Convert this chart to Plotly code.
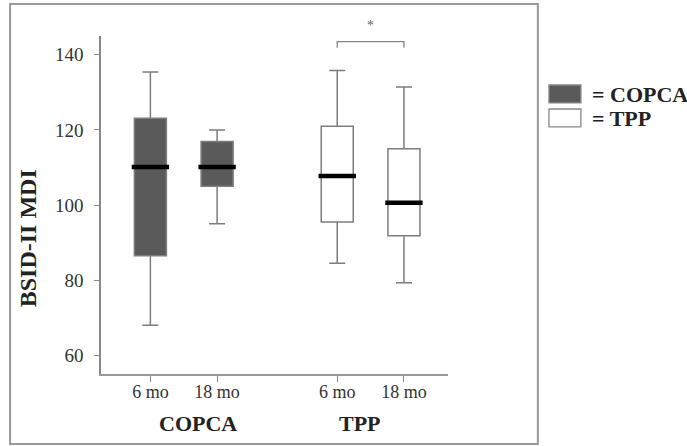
import plotly.graph_objects as go

# ---- data ----
groups = ["COPCA", "COPCA", "TPP", "TPP"]
timepoints = ["6 mo", "18 mo", "6 mo", "18 mo"]
positions = [1.0, 2.0, 3.8, 4.8]
lower_whisker = [68.0, 95.0, 84.5, 79.3]
q1 = [86.5, 105.0, 95.5, 91.8]
median = [110.1, 110.1, 107.7, 100.6]
q3 = [123.1, 116.9, 121.0, 115.0]
upper_whisker = [135.4, 120.0, 135.8, 131.4]
y_ticks = [60, 80, 100, 120, 140]
group_names = ["COPCA", "TPP"]
group_label_x = [1.72, 4.14]
bracket_x = [3.8, 4.8]
bracket_y = [141.9, 143.5]

fills = {"COPCA": "#5a5a5a", "TPP": "#ffffff"}
serif = "Liberation Serif, DejaVu Serif, serif"

fig = go.Figure()
box_w = 0.48
for i in range(len(positions)):
    fig.add_trace(go.Box(
        x=[positions[i]], q1=[q1[i]], median=[median[i]], q3=[q3[i]],
        lowerfence=[lower_whisker[i]], upperfence=[upper_whisker[i]],
        width=box_w, whiskerwidth=0.5,
        fillcolor=fills[groups[i]],
        line=dict(color="#7d7d7d", width=1.5),
        boxpoints=False, showlegend=False, hoverinfo="skip",
    ))
    half = box_w / 2 + 0.04
    fig.add_trace(go.Scatter(
        x=[positions[i] - half, positions[i] + half], y=[median[i], median[i]],
        mode="lines", line=dict(color="#000000", width=4.5),
        showlegend=False, hoverinfo="skip",
    ))

# significance bracket
fig.add_shape(type="path", xref="x", yref="y",
              path=f"M {bracket_x[0]},{bracket_y[0]} L {bracket_x[0]},{bracket_y[1]} "
                   f"L {bracket_x[1]},{bracket_y[1]} L {bracket_x[1]},{bracket_y[0]}",
              line=dict(color="#888888", width=1.3))
fig.add_annotation(x=sum(bracket_x) / 2, y=1.03, xref="x", yref="paper", text="*",
                   xanchor="center", yanchor="middle",
                   showarrow=False, font=dict(family=serif, size=14, color="#666666"))

# group labels
for name, gx in zip(group_names, group_label_x):
    fig.add_annotation(x=gx, y=-0.145, xref="x", yref="paper", text=f"<b>{name}</b>",
                       xanchor="center", yanchor="middle",
                       showarrow=False, font=dict(family=serif, size=22, color="#222222"))

# y title
fig.add_annotation(x=-0.21, y=0.402, xref="paper", yref="paper", text="<b>BSID-II MDI</b>",
                   textangle=-90, showarrow=False, xanchor="center", yanchor="middle",
                   font=dict(family=serif, size=24, color="#222222"))

# outer frame
fig.add_shape(type="rect", xref="paper", yref="paper", x0=-0.262, x1=1.259, y0=-0.207, y1=1.095,
              line=dict(color="#999999", width=2), layer="below")

# legend (drawn manually)
leg_items = [("COPCA", 0.855, 0.802, 0.828), ("TPP", 0.784, 0.731, 0.757)]
for name, yt, yb, yc in leg_items:
    fig.add_shape(type="rect", xref="paper", yref="paper", x0=1.291, x1=1.383, y0=yb, y1=yt,
                  fillcolor=fills[name], line=dict(color="#888888", width=1.3))
    fig.add_annotation(x=1.409, y=yc, xref="paper", yref="paper", xanchor="left", yanchor="middle",
                       text=f"<b>= {name}</b>", showarrow=False,
                       font=dict(family=serif, size=22, color="#222222"))

fig.update_layout(
    width=687, height=446,
    margin=dict(l=101, r=239, t=36, b=72),
    paper_bgcolor="white", plot_bgcolor="white",
    xaxis=dict(range=[0.26, 5.46], tickvals=positions, ticktext=timepoints,
               showline=True, linecolor="#999999", linewidth=1.5,
               ticks="outside", ticklen=6, tickcolor="#888888", tickwidth=1.3,
               showgrid=False, zeroline=False, ticklabelstandoff=-5,
               tickfont=dict(family=serif, size=18, color="#333333")),
    yaxis=dict(range=[55, 145], tickvals=y_ticks,
               showline=True, linecolor="#888888", linewidth=1.5,
               ticks="outside", ticklen=5, tickcolor="#888888", tickwidth=1.3,
               showgrid=False, zeroline=False, ticklabelstandoff=7,
               tickfont=dict(family=serif, size=19, color="#333333")),
)

fig.write_html("out.html")
